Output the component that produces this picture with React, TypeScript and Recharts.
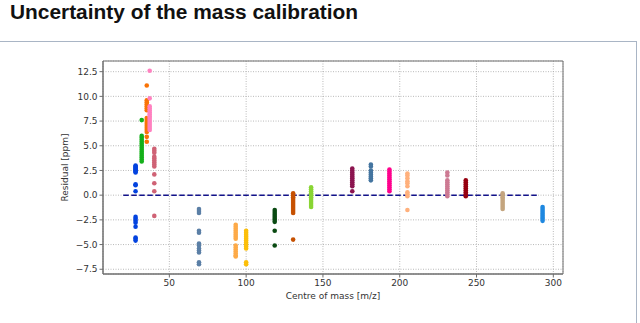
import React from 'react';
import {
  ScatterChart,
  Scatter,
  XAxis,
  YAxis,
  CartesianGrid,
  ReferenceLine,
  ReferenceArea,
} from 'recharts';

// Centre of mass of each calibration peak [m/z]
const groupMass = [28, 32, 35.3, 37.2, 40.2, 69.3, 93.2, 100, 118.6, 130.6, 142.3, 169.1, 181.2, 193.3, 205, 231, 243, 267, 293];

// Residuals [ppm] of each peak
const residuals: number[][] = [
  [3.0, 2.9, 2.8, 2.7, 2.6, 2.5, 2.4, 2.3, 1.1, 1.0, 0.4, -2.2, -2.4, -2.6, -2.8, -3.2, -4.3, -4.4, -4.6],
  [7.6, 6.0, 5.8, 5.6, 5.4, 5.2, 5.0, 4.8, 4.6, 4.4, 4.2, 4.0, 3.8, 3.6, 3.4],
  [11.1, 9.6, 9.4, 9.2, 9.0, 8.8, 8.6, 7.8, 7.6, 7.4, 7.2, 7.0, 6.8, 6.6, 6.4, 5.9, 5.4],
  [12.6, 9.8, 9.0, 8.8, 8.6, 8.4, 8.2, 8.0, 7.8, 7.6, 7.4, 7.2, 7.0, 6.8, 6.6],
  [4.7, 4.5, 4.3, 3.9, 3.7, 3.5, 3.3, 3.1, 2.9, 2.1, 1.2, 0.4, -2.1],
  [-1.4, -1.6, -1.8, -3.6, -3.8, -4.9, -5.1, -5.4, -5.6, -5.8, -6.8, -7.0],
  [-3.0, -3.2, -3.4, -3.6, -3.8, -4.0, -4.2, -4.4, -5.1, -5.3, -5.5, -5.7, -5.9, -6.1, -6.2],
  [-3.6, -3.8, -4.0, -4.2, -4.4, -4.6, -4.8, -5.0, -5.2, -5.4, -6.8, -7.0],
  [-1.5, -1.7, -1.9, -2.1, -2.3, -2.5, -2.7, -3.6, -5.1],
  [0.2, 0.0, -0.2, -0.4, -0.6, -0.8, -1.0, -1.2, -1.4, -1.6, -1.8, -4.5],
  [0.8, 0.6, 0.4, 0.2, 0.0, -0.2, -0.4, -0.6, -0.8, -1.0, -1.2],
  [2.7, 2.5, 2.3, 2.1, 1.9, 1.7, 1.5, 1.3, 1.1, 0.9, 0.4],
  [3.1, 2.9, 2.5, 2.3, 2.1, 1.9, 1.7, 1.5],
  [2.6, 2.4, 2.2, 2.0, 1.8, 1.6, 1.4, 1.2, 1.0, 0.8, 0.6, 0.4],
  [2.2, 2.0, 1.7, 1.4, 1.2, 0.9, 0.3, 0.1, -0.1, -1.5],
  [2.3, 2.0, 1.5, 1.3, 1.1, 0.9, 0.7, 0.5, 0.3, 0.1, -0.1],
  [1.5, 1.3, 1.1, 0.9, 0.7, 0.5, 0.3, 0.1, -0.1],
  [0.2, 0.0, -0.2, -0.4, -0.6, -0.8, -1.0, -1.2, -1.4],
  [-1.2, -1.4, -1.6, -1.8, -2.0, -2.2, -2.4, -2.6],
];

const groupColors = [
  '#0343df', '#15b01a', '#f97306', '#ff81c0', '#cf6275',
  '#5b7fa6', '#fdaa48', '#fcbf0a', '#0a4a12', '#c65102',
  '#89d534', '#8c1550', '#4475a0', '#ff028d', '#ffb07c',
  '#cd7a93', '#960010', '#c4a57f', '#1f88e0',
];

const xTicks = [50, 100, 150, 200, 250, 300];
const yTicks = [-7.5, -5, -2.5, 0, 2.5, 5, 7.5, 10, 12.5];
const xDomain = [6.8, 306.3];
const yDomain = [-7.98, 13.58];
const zeroLineRange = [20, 290];

const TITLE = 'Uncertainty of the mass calibration';
const X_LABEL = 'Centre of mass [m/z]';
const Y_LABEL = 'Residual [ppm]';

const FONT = "'DejaVu Sans', sans-serif";
const TEXT_COLOR = '#333';
const FRAME = '#6e6e6e';

const series = groupMass.map((m, i) => ({
  color: groupColors[i],
  data: residuals[i].map((r) => ({ x: m, y: r })),
}));

const fmtY = (v: number) => (v < 0 ? '\u2212' : '') + Math.abs(v).toFixed(1);

const YLabel = (props: any) => {
  const vb = props.viewBox || { x: 0, y: 61, width: 103, height: 213 };
  const cx = vb.x + vb.width - 38;
  const cy = vb.y + vb.height / 2;
  return (
    <text
      x={cx}
      y={cy}
      transform={`rotate(-90, ${cx}, ${cy})`}
      textAnchor="middle"
      dominantBaseline="central"
      fontFamily={FONT}
      fontSize={9}
      fill={TEXT_COLOR}
    >
      {Y_LABEL}
    </text>
  );
};

const XLabel = (props: any) => {
  const vb = props.viewBox || { x: 103, y: 274, width: 460, height: 49 };
  const cx = vb.x + vb.width / 2;
  return (
    <text
      x={cx}
      y={vb.y + 25}
      textAnchor="middle"
      fontFamily={FONT}
      fontSize={9}
      fill={TEXT_COLOR}
    >
      {X_LABEL}
    </text>
  );
};

const makeDot = (color: string) => (p: any) => (
  <circle cx={p.cx} cy={p.cy} r={2.3} fill={color} stroke="none" />
);

export default function App() {
  return (
    <div
      style={{
        position: 'fixed',
        left: 0,
        top: 0,
        width: 640,
        height: 323,
        overflow: 'hidden',
        background: '#fff',
      }}
    >
      <svg width={640} height={40} style={{ position: 'absolute', left: 0, top: 0 }}>
        <text
          x={10}
          y={19}
          fontFamily="'Liberation Sans', Arial, sans-serif"
          fontWeight="bold"
          fontSize={20}
          fill="#111"
          textLength={348}
          lengthAdjust="spacingAndGlyphs"
        >
          {TITLE}
        </text>
      </svg>
      <div
        style={{
          position: 'absolute',
          left: -2,
          top: 41,
          width: 639,
          height: 400,
          borderTop: '1.5px solid #a9b5c5',
          borderRight: '1.5px solid #a9b5c5',
          boxSizing: 'border-box',
        }}
      />
      <div style={{ position: 'absolute', left: 0, top: 0 }}>
        <ScatterChart
          width={640}
          height={323}
          margin={{ top: 61, right: 77, bottom: 0, left: 0 }}
        >
          <CartesianGrid stroke="#a8a8a8" strokeDasharray="1 1.5" strokeWidth={0.8} />
          <XAxis
            type="number"
            dataKey="x"
            domain={xDomain}
            ticks={xTicks}
            allowDataOverflow
            height={49}
            tickSize={3.5}
            tickMargin={2}
            stroke={FRAME}
            tick={{ fontFamily: FONT, fontSize: 9, fill: TEXT_COLOR }}
            tickLine={{ stroke: FRAME }}
            axisLine={{ stroke: FRAME }}
            label={<XLabel />}
          />
          <YAxis
            type="number"
            dataKey="y"
            domain={yDomain}
            ticks={yTicks}
            allowDataOverflow
            width={103}
            tickSize={3.5}
            tickMargin={2}
            stroke={FRAME}
            tickFormatter={fmtY}
            tick={{ fontFamily: FONT, fontSize: 9, fill: TEXT_COLOR }}
            tickLine={{ stroke: FRAME }}
            axisLine={{ stroke: FRAME }}
            label={<YLabel />}
          />
          <ReferenceArea
            x1={xDomain[0]}
            x2={xDomain[1]}
            y1={yDomain[0]}
            y2={yDomain[1]}
            fill="none"
            fillOpacity={0}
            stroke={FRAME}
            strokeWidth={1}
            ifOverflow="visible"
          />
          <ReferenceLine
            segment={[
              { x: zeroLineRange[0], y: 0 },
              { x: zeroLineRange[1], y: 0 },
            ]}
            stroke="#12128a"
            strokeWidth={1.5}
            strokeDasharray="5.5 2.5"
            ifOverflow="visible"
          />
          {series.map((s, i) => (
            <Scatter
              key={i}
              data={s.data}
              fill={s.color}
              shape={makeDot(s.color)}
              isAnimationActive={false}
            />
          ))}
        </ScatterChart>
      </div>
    </div>
  );
}
